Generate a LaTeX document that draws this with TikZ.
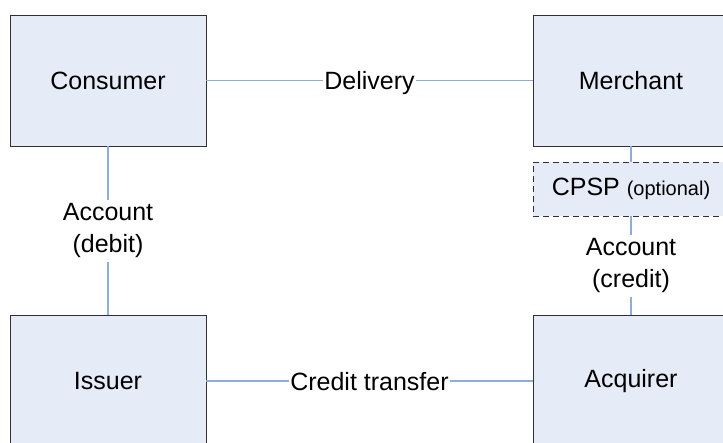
\documentclass[tikz,border=0pt]{standalone}
\usepackage{fontspec}
\setmainfont{Liberation Sans}
\definecolor{boxfill}{HTML}{E6ECF7}
\definecolor{linkblue}{HTML}{8EADD9}
\definecolor{boxline}{HTML}{303030}
\tikzset{
  party/.style={draw=boxline, fill=boxfill, line width=0.9pt,
    minimum width=196pt, minimum height=131pt, inner sep=0pt,
    font=\fontsize{25}{30}\selectfont},
  optbox/.style={party, dash pattern=on 6pt off 4pt, minimum height=54pt},
  link/.style={draw=linkblue, line width=1.1pt},
  linklabel/.style={fill=white, inner xsep=1pt, inner ysep=4pt, align=center,
    font=\fontsize{25}{32}\selectfont},
  flatlabel/.style={linklabel, text depth=0pt}
}
\begin{document}
\begin{tikzpicture}[x=1pt,y=-1pt]
  \clip (0,0) rectangle (723,443);
  \fill[white] (0,0) rectangle (723,443);

  \node[party] (consumer) at (108,80.5) {Consumer};
  \node[party] (merchant) at (631,80.5) {Merchant};
  \node[party] (issuer) at (108,381) {Issuer};
  \node[party] (acquirer) at (631,381) {Acquirer};
  \node[optbox] (cpsp) at (631,189) {CPSP {\fontsize{20}{24}\selectfont (optional)}};

  \draw[link] (consumer) -- node[flatlabel] (delivery) {Delivery} (merchant);
  \draw[link] (issuer) -- node[flatlabel] (transfer) {Credit transfer} (acquirer);
  \draw[link] (consumer) -- node[linklabel] (debit) {Account\\(debit)} (issuer);
  \draw[link] (merchant) -- (cpsp);
  \draw[link] (cpsp) -- node[linklabel] (credit) {Account\\(credit)} (acquirer);

\end{tikzpicture}
\end{document}
